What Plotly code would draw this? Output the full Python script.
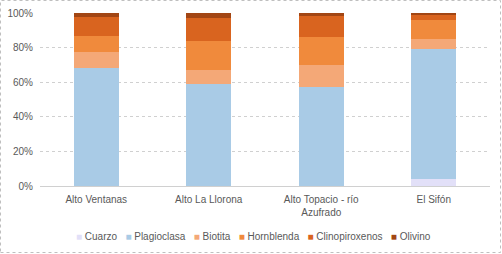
import plotly.graph_objects as go

categories = ["Alto Ventanas", "Alto La Llorona", "Alto Topacio - río<br>Azufrado", "El Sifón"]
minerals = ["Cuarzo", "Plagioclasa", "Biotita", "Hornblenda", "Clinopiroxenos", "Olivino"]
cuarzo = [0, 0, 0, 4]
plagioclasa = [68.5, 59, 57, 75]
biotita = [9, 8, 13, 6]
hornblenda = [9, 17, 16, 11]
clinopiroxenos = [11, 13, 12, 3]
olivino = [2.5, 3, 2, 1]
y_ticks = [0, 20, 40, 60, 80, 100]
y_tick_labels = [f"{v}%" for v in y_ticks]

series = [cuarzo, plagioclasa, biotita, hornblenda, clinopiroxenos, olivino]
colors = ["#e2e0f8", "#a9cbe6", "#f4a877", "#f08a3c", "#d9641f", "#a24614"]

fig = go.Figure()
for name, vals, col in zip(minerals, series, colors):
    fig.add_trace(go.Bar(x=categories, y=vals, name=name, marker_color=col,
                         marker_line_width=0, width=0.4))

W, H = 502, 254
ml, mr, mt, mb = 40, 12, 13, 68
pw, ph = W - ml - mr, H - mt - mb

legend_text = "&nbsp;&nbsp;&nbsp;".join(
    f'<span style="color:{c}">■</span> {n}' for n, c in zip(minerals, colors))

fig.update_layout(
    barmode="stack",
    width=W, height=H,
    margin=dict(l=ml, r=mr, t=mt, b=mb, autoexpand=False),
    paper_bgcolor="white", plot_bgcolor="white",
    font=dict(family="Liberation Sans, Arial", size=10, color="#595959"),
    showlegend=False,
    xaxis=dict(showgrid=False, showline=False, ticks="", tickfont=dict(size=10),
               automargin=False, ticklabelstandoff=6),
    yaxis=dict(range=[0, 100], tickvals=y_ticks, ticktext=y_tick_labels,
               showgrid=True, gridcolor="#d0d0d0", griddash="dot", gridwidth=1,
               zeroline=True, zerolinecolor="#d0d0d0", zerolinewidth=1,
               showline=False, ticks="", tickfont=dict(size=10),
               automargin=False, ticklabelstandoff=6),
    annotations=[dict(text=legend_text, xref="paper", yref="paper",
                      x=(253 - ml) / pw, y=-(236 - 186) / ph, xanchor="center", yanchor="middle",
                      showarrow=False, font=dict(size=10, color="#595959"))],
    shapes=[dict(type="rect", xref="paper", yref="paper",
                 x0=-(ml - 0.5) / pw, x1=1 + (mr - 1.5) / pw,
                 y0=-(mb - 1.5) / ph, y1=1 + (mt - 0.5) / ph,
                 line=dict(color="#bfbfbf", width=1, dash="dot"))],
)

fig.write_html("out.html", config={"displayModeBar": False},
               post_script="document.body.style.margin='0';")
